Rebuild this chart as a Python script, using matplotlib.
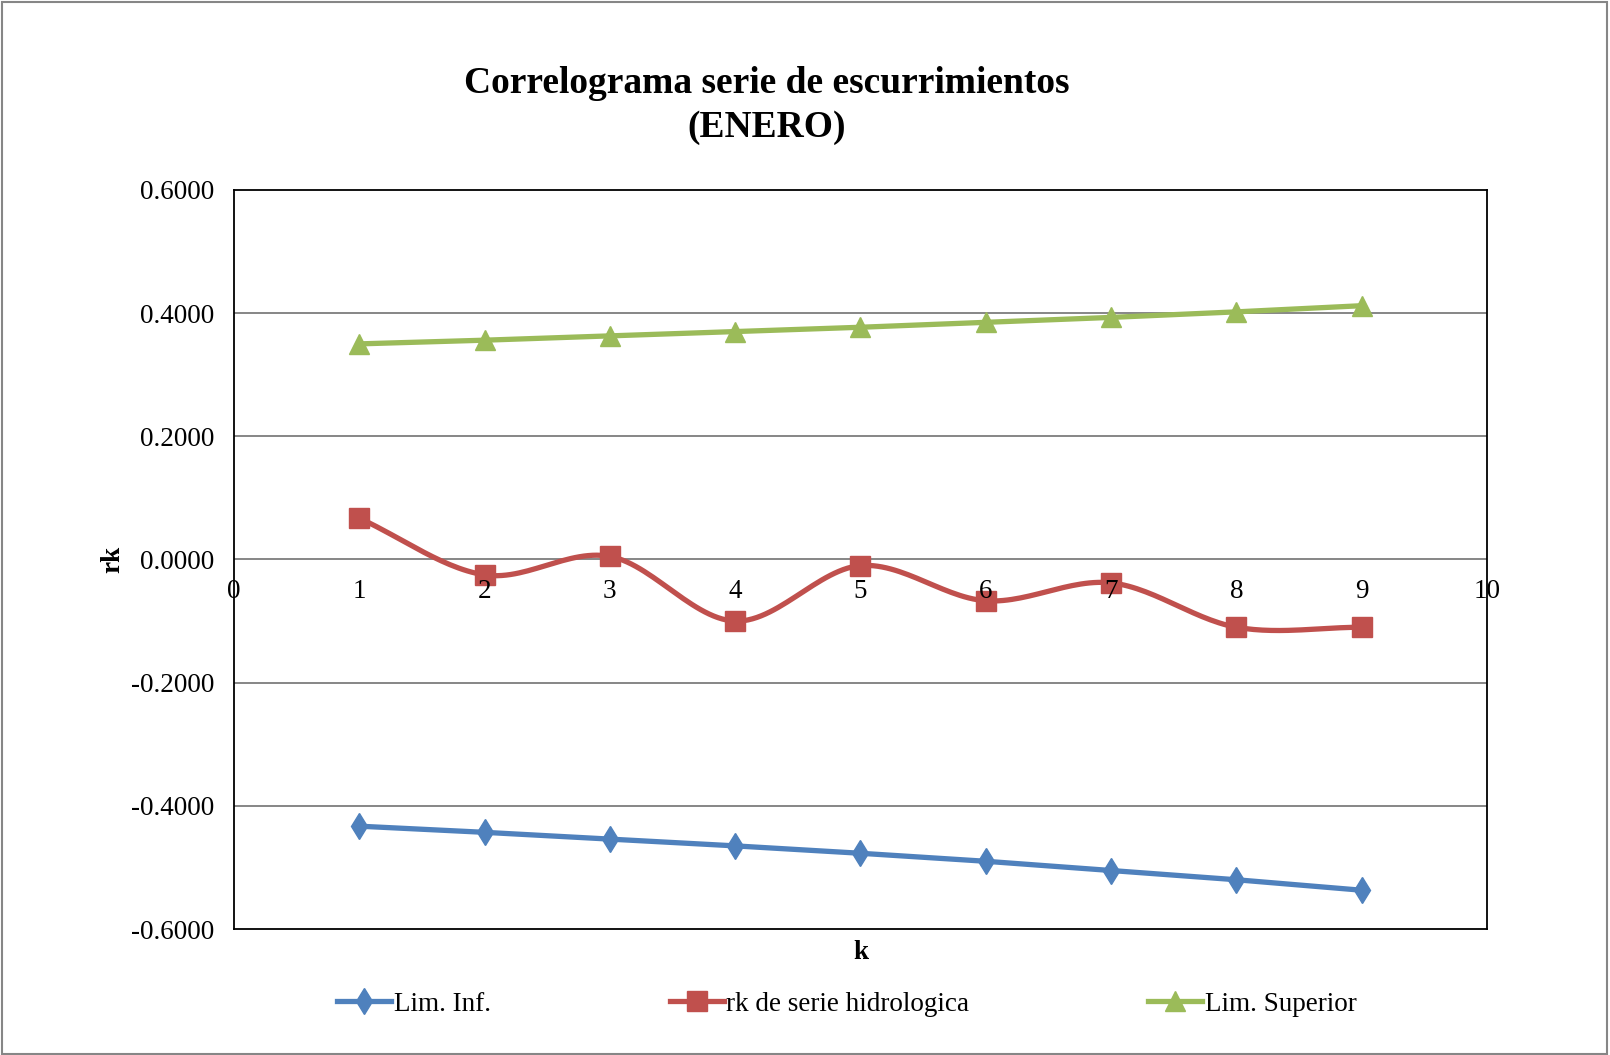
import numpy as np
import matplotlib.pyplot as plt
from matplotlib.patches import Rectangle
from matplotlib.transforms import offset_copy

plt.rcParams['font.family'] = ['Liberation Serif', 'DejaVu Serif']

# data
k = [1, 2, 3, 4, 5, 6, 7, 8, 9]
lim_inf = [-0.433, -0.443, -0.454, -0.465, -0.477, -0.490, -0.505, -0.520, -0.537]
rk = [0.067, -0.025, 0.005, -0.100, -0.010, -0.067, -0.038, -0.110, -0.110]
lim_sup = [0.350, 0.356, 0.363, 0.370, 0.377, 0.385, 0.393, 0.402, 0.412]
yticks = [-0.6, -0.4, -0.2, 0.0, 0.2, 0.4, 0.6]
xticks = [0, 1, 2, 3, 4, 5, 6, 7, 8, 9, 10]

blue = '#4F81BD'
red = '#C0504D'
green = '#9BBB59'


def smooth(x, y, steps=30):
    # catmull-rom curve through the points, like excel's smoothed line
    x = np.asarray(x, float)
    y = np.asarray(y, float)
    px = np.concatenate([[2 * x[0] - x[1]], x, [2 * x[-1] - x[-2]]])
    py = np.concatenate([[2 * y[0] - y[1]], y, [2 * y[-1] - y[-2]]])
    xs, ys = [], []
    t = np.linspace(0, 1, steps)
    for i in range(1, len(px) - 2):
        for p, out in ((px, xs), (py, ys)):
            p0, p1, p2, p3 = p[i - 1], p[i], p[i + 1], p[i + 2]
            out.extend(0.5 * (2 * p1 + (-p0 + p2) * t
                              + (2 * p0 - 5 * p1 + 4 * p2 - p3) * t ** 2
                              + (-p0 + 3 * p1 - 3 * p2 + p3) * t ** 3))
    return xs, ys


fig = plt.figure(figsize=(16.1, 10.55), dpi=100)
ax = fig.add_axes([0.1453, 0.1194, 0.7783, 0.7006])

ax.set_xlim(0, 10)
ax.set_ylim(-0.6, 0.6)
ax.set_yticks(yticks)
ax.set_yticklabels([f'{v:.4f}' for v in yticks], fontsize=19.5)
ax.set_xticks([])
ax.tick_params(axis='y', length=0, pad=14)
for y in yticks[1:-1]:
    ax.axhline(y, color='#868686', lw=1.4, zorder=1)
for s in ax.spines.values():
    s.set_color('black')
    s.set_linewidth(1.3)

# x labels sit under the zero line
lab_tr = offset_copy(ax.transData, fig=fig, x=0, y=-32, units='dots')
for v in xticks:
    ax.text(v, 0, str(v), transform=lab_tr, ha='center', va='center',
            fontsize=19.5, zorder=5)

lw = 3.8
ax.plot(k, lim_inf, color=blue, lw=lw, marker='d', ms=13, zorder=3, label='Lim. Inf.')
sx, sy = smooth(k, rk)
ax.plot(sx, sy, color=red, lw=lw, zorder=3)
ax.plot(k, rk, color=red, lw=0, marker='s', ms=14, zorder=4)
ax.plot([], [], color=red, lw=lw, marker='s', ms=14, label='rk de serie hidrologica')
ax.plot(k, lim_sup, color=green, lw=lw, marker='^', ms=15, zorder=3, label='Lim. Superior')

ax.set_ylabel('rk', fontsize=19.5, fontweight='bold', labelpad=4)
ax.set_xlabel('k', fontsize=19.5, fontweight='bold', labelpad=8)

fig.text(0.476, 0.9, 'Correlograma serie de escurrimientos\n(ENERO)', ha='center',
         va='center', fontsize=27, fontweight='bold', linespacing=1.3)

fig.legend(loc='center', bbox_to_anchor=(0.526, 0.048), ncol=3, frameon=False,
           fontsize=19.5, handlelength=2.0, handletextpad=0.1, columnspacing=6.6)

fig.patches.append(Rectangle((0.001, 0.001), 0.997, 0.997, transform=fig.transFigure,
                             fill=False, edgecolor='#868686', lw=1.5))

fig.savefig('out.png', dpi=100, facecolor='white')
